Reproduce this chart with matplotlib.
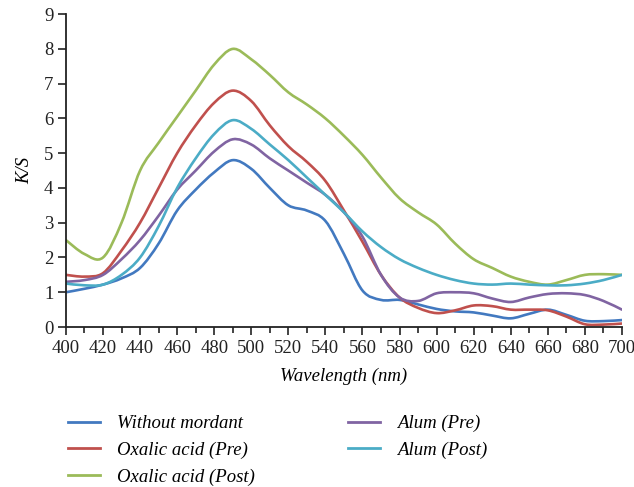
import matplotlib
matplotlib.use("Agg")
import matplotlib.pyplot as plt
import numpy as np
from matplotlib.path import Path
from matplotlib.patches import PathPatch
from matplotlib.lines import Line2D

# data (K/S every 10 nm)
wavelength = list(range(400, 701, 10))

without_mordant = [1.0, 1.1, 1.22, 1.4, 1.7, 2.4, 3.35, 3.95, 4.45, 4.8, 4.55,
                   4.0, 3.5, 3.35, 3.05, 2.1, 1.05, 0.78, 0.78, 0.65, 0.52,
                   0.45, 0.42, 0.33, 0.25, 0.38, 0.5, 0.35, 0.18, 0.17, 0.2]
oxalic_pre = [1.5, 1.45, 1.55, 2.2, 3.0, 4.0, 5.0, 5.8, 6.45, 6.8, 6.5,
              5.8, 5.2, 4.75, 4.2, 3.35, 2.45, 1.5, 0.85, 0.55, 0.4,
              0.48, 0.62, 0.6, 0.5, 0.5, 0.48, 0.3, 0.08, 0.07, 0.1]
oxalic_post = [2.5, 2.1, 2.0, 3.0, 4.5, 5.3, 6.05, 6.8, 7.55, 8.0, 7.7,
               7.25, 6.75, 6.4, 6.0, 5.5, 4.95, 4.3, 3.7, 3.3, 2.95,
               2.4, 1.95, 1.7, 1.45, 1.3, 1.22, 1.35, 1.5, 1.52, 1.5]
alum_pre = [1.3, 1.35, 1.5, 1.95, 2.5, 3.2, 3.95, 4.5, 5.05, 5.4, 5.25,
            4.85, 4.5, 4.15, 3.8, 3.3, 2.6, 1.5, 0.85, 0.75, 0.97,
            1.0, 0.97, 0.82, 0.72, 0.85, 0.95, 0.97, 0.92, 0.75, 0.5]
alum_post = [1.25, 1.2, 1.22, 1.5, 2.0, 2.9, 4.0, 4.85, 5.55, 5.95, 5.7,
             5.25, 4.8, 4.3, 3.8, 3.3, 2.75, 2.3, 1.95, 1.7, 1.5,
             1.35, 1.25, 1.22, 1.25, 1.22, 1.2, 1.2, 1.25, 1.35, 1.5]

series = [
    ("Without mordant",     without_mordant, "#4279c0"),
    ("Oxalic acid (Pre)",   oxalic_pre,      "#c0504d"),
    ("Oxalic acid (Post)",  oxalic_post,     "#9bbb59"),
    ("Alum (Pre)",          alum_pre,        "#8064a2"),
    ("Alum (Post)",         alum_post,       "#4bacc6"),
]

plt.rcParams['font.family'] = ['Liberation Serif', 'DejaVu Serif']


def smooth_path(x, y):
    # excel-style smoothed line: catmull-rom segments as cubic beziers
    pts = np.column_stack([x, y]).astype(float)
    n = len(pts)
    verts = [pts[0]]
    codes = [Path.MOVETO]
    for i in range(n - 1):
        p0 = pts[max(i - 1, 0)]
        p1 = pts[i]
        p2 = pts[i + 1]
        p3 = pts[min(i + 2, n - 1)]
        c1 = p1 + (p2 - p0) / 6.0
        c2 = p2 - (p3 - p1) / 6.0
        verts += [c1, c2, p2]
        codes += [Path.CURVE4] * 3
    return Path(verts, codes)


fig = plt.figure(figsize=(6.34, 4.87), dpi=100)
ax = fig.add_axes((0.104, 0.3285, 0.877, 0.6425))

handles = []
for label, vals, color in series:
    patch = PathPatch(smooth_path(wavelength, vals), fill=False,
                      edgecolor=color, lw=1.9, capstyle='round',
                      joinstyle='round', transform=ax.transData)
    ax.add_patch(patch)
    handles.append(Line2D([], [], color=color, lw=2.0, label=label))

ax.set_xlim(400, 700)
ax.set_ylim(0, 9)
ax.set_xticks(range(400, 701, 20))
ax.set_xticks(range(410, 700, 20), minor=True)
ax.set_yticks(range(0, 10))

ax.spines['right'].set_visible(False)
ax.spines['top'].set_visible(False)
for s in ('left', 'bottom'):
    ax.spines[s].set_linewidth(1.3)
    ax.spines[s].set_color('#222222')

ax.tick_params(axis='both', which='major', direction='out', length=6,
               width=1.2, labelsize=13.5, colors='#222222', pad=3)
ax.tick_params(axis='x', which='minor', direction='out', length=4, width=1.2,
               colors='#222222')

ax.set_xlabel("Wavelength (nm)", fontsize=13.5, style='italic', labelpad=8)
ax.set_ylabel("K/S", fontsize=13.5, style='italic', labelpad=8)

fig.legend(handles=handles, ncol=2, loc='upper left',
           bbox_to_anchor=(0.107, 0.148), frameon=False,
           prop={'size': 13.5, 'style': 'italic'},
           borderpad=0, borderaxespad=0,
           handlelength=1.7, handletextpad=0.9, columnspacing=5.0,
           labelspacing=0.5)

fig.savefig("out.png", dpi=100)
